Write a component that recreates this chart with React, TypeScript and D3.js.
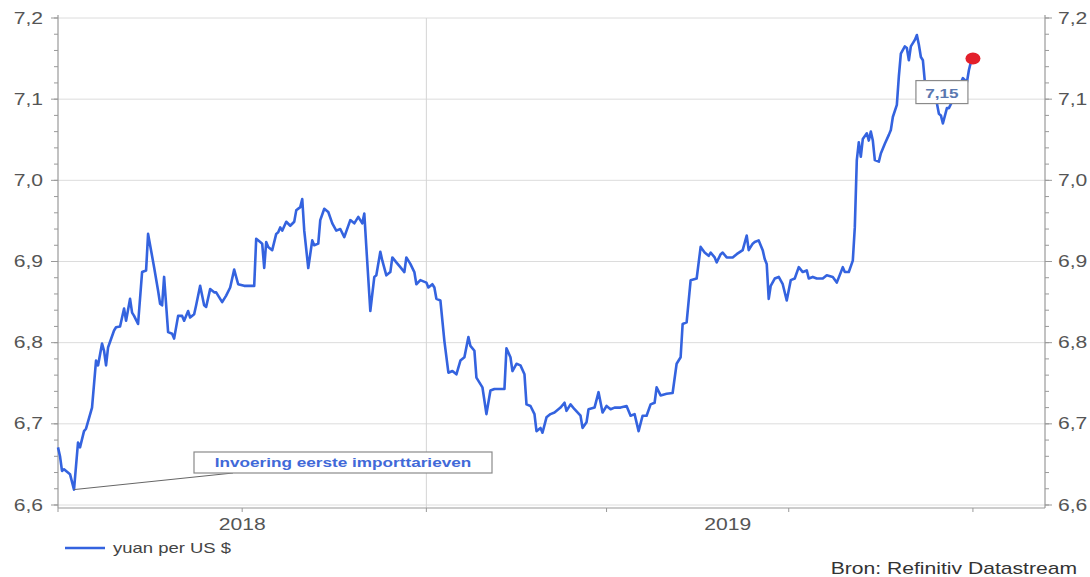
import React from "react";
import * as d3 from "d3";

const dates: string[] = [
  "2018-07-01","2018-07-02","2018-07-03","2018-07-04","2018-07-07","2018-07-09","2018-07-11","2018-07-12","2018-07-14","2018-07-15",
  "2018-07-18","2018-07-20","2018-07-21","2018-07-23","2018-07-24","2018-07-25","2018-07-26","2018-07-29","2018-07-30","2018-08-01",
  "2018-08-03","2018-08-04","2018-08-06","2018-08-07","2018-08-08","2018-08-10","2018-08-12","2018-08-14","2018-08-15","2018-08-18",
  "2018-08-20","2018-08-21","2018-08-22","2018-08-23","2018-08-25","2018-08-27","2018-08-28","2018-08-30","2018-09-01","2018-09-02",
  "2018-09-04","2018-09-05","2018-09-07","2018-09-08","2018-09-10","2018-09-12","2018-09-13","2018-09-15","2018-09-17","2018-09-18",
  "2018-09-21","2018-09-23","2018-09-25","2018-09-27","2018-09-29","2018-10-02","2018-10-07","2018-10-08","2018-10-10","2018-10-11",
  "2018-10-12","2018-10-13","2018-10-14","2018-10-16","2018-10-18","2018-10-19","2018-10-20","2018-10-21","2018-10-23","2018-10-25",
  "2018-10-27","2018-10-28","2018-10-30","2018-10-31","2018-11-01","2018-11-03","2018-11-05","2018-11-06","2018-11-08","2018-11-09",
  "2018-11-11","2018-11-13","2018-11-15","2018-11-17","2018-11-19","2018-11-21","2018-11-24","2018-11-26","2018-11-28","2018-11-29",
  "2018-11-30","2018-12-01","2018-12-02","2018-12-04","2018-12-06","2018-12-07","2018-12-09","2018-12-10","2018-12-12","2018-12-14",
  "2018-12-15","2018-12-17","2018-12-19","2018-12-21","2018-12-22","2018-12-24","2018-12-26","2018-12-27","2018-12-29","2019-01-01",
  "2019-01-02","2019-01-04","2019-01-05","2019-01-06","2019-01-08","2019-01-10","2019-01-12","2019-01-14","2019-01-16","2019-01-18",
  "2019-01-20","2019-01-22","2019-01-23","2019-01-25","2019-01-26","2019-01-29","2019-01-31","2019-02-02","2019-02-04","2019-02-09",
  "2019-02-10","2019-02-12","2019-02-13","2019-02-15","2019-02-17","2019-02-19","2019-02-20","2019-02-22","2019-02-24","2019-02-25",
  "2019-02-27","2019-02-28","2019-03-02","2019-03-04","2019-03-06","2019-03-09","2019-03-11","2019-03-12","2019-03-14","2019-03-16",
  "2019-03-19","2019-03-20","2019-03-22","2019-03-23","2019-03-26","2019-03-28","2019-03-30","2019-04-01","2019-04-03","2019-04-05",
  "2019-04-08","2019-04-11","2019-04-13","2019-04-15","2019-04-17","2019-04-19","2019-04-21","2019-04-23","2019-04-25","2019-04-26",
  "2019-04-28","2019-05-01","2019-05-04","2019-05-06","2019-05-08","2019-05-09","2019-05-11","2019-05-13","2019-05-16","2019-05-18",
  "2019-05-20","2019-05-22","2019-05-23","2019-05-25","2019-05-26","2019-05-28","2019-05-29","2019-05-31","2019-06-03","2019-06-05",
  "2019-06-08","2019-06-10","2019-06-11","2019-06-13","2019-06-14","2019-06-16","2019-06-18","2019-06-19","2019-06-20","2019-06-21",
  "2019-06-22","2019-06-24","2019-06-26","2019-06-28","2019-06-30","2019-07-02","2019-07-04","2019-07-06","2019-07-08","2019-07-10",
  "2019-07-11","2019-07-13","2019-07-15","2019-07-18","2019-07-20","2019-07-23","2019-07-25","2019-07-28","2019-07-29","2019-07-31",
  "2019-08-02","2019-08-03","2019-08-04","2019-08-05","2019-08-06","2019-08-07","2019-08-09","2019-08-10","2019-08-11","2019-08-12",
  "2019-08-13","2019-08-15","2019-08-16","2019-08-18","2019-08-20","2019-08-21","2019-08-22","2019-08-24","2019-08-25","2019-08-26",
  "2019-08-28","2019-08-29","2019-08-30","2019-08-31","2019-09-02","2019-09-03","2019-09-04","2019-09-05","2019-09-06","2019-09-07",
  "2019-09-08","2019-09-10","2019-09-13","2019-09-14","2019-09-15","2019-09-16","2019-09-18","2019-09-19","2019-09-21","2019-09-23",
  "2019-09-24","2019-09-26","2019-09-28","2019-09-29","2019-09-30","2019-10-01"
];

const yuanPerUsd: number[] = [
  6.671,6.660,6.642,6.644,6.638,6.619,6.677,6.671,6.691,6.694,
  6.720,6.778,6.772,6.799,6.790,6.772,6.794,6.815,6.819,6.820,
  6.842,6.827,6.854,6.837,6.833,6.823,6.887,6.889,6.934,6.893,
  6.864,6.848,6.846,6.881,6.813,6.811,6.805,6.833,6.833,6.827,
  6.839,6.831,6.835,6.846,6.870,6.846,6.844,6.866,6.862,6.862,
  6.850,6.858,6.868,6.890,6.872,6.870,6.870,6.928,6.924,6.922,
  6.892,6.924,6.918,6.914,6.934,6.936,6.942,6.938,6.949,6.944,
  6.949,6.963,6.967,6.977,6.938,6.892,6.926,6.920,6.922,6.951,
  6.965,6.961,6.947,6.938,6.940,6.930,6.951,6.947,6.955,6.951,
  6.947,6.959,6.918,6.839,6.881,6.883,6.912,6.901,6.883,6.887,
  6.905,6.899,6.893,6.887,6.905,6.897,6.887,6.872,6.877,6.874,
  6.868,6.872,6.868,6.854,6.852,6.802,6.763,6.765,6.761,6.778,
  6.782,6.807,6.796,6.790,6.757,6.745,6.712,6.741,6.743,6.743,
  6.793,6.782,6.765,6.774,6.772,6.761,6.724,6.722,6.712,6.691,
  6.695,6.689,6.708,6.712,6.714,6.720,6.726,6.716,6.724,6.718,
  6.710,6.695,6.702,6.718,6.720,6.739,6.714,6.722,6.718,6.720,
  6.720,6.722,6.710,6.712,6.691,6.710,6.710,6.724,6.726,6.745,
  6.735,6.737,6.738,6.774,6.782,6.823,6.825,6.877,6.879,6.918,
  6.911,6.907,6.911,6.905,6.899,6.909,6.911,6.905,6.905,6.909,
  6.914,6.932,6.914,6.922,6.924,6.926,6.914,6.903,6.897,6.854,
  6.870,6.879,6.881,6.872,6.852,6.877,6.879,6.893,6.887,6.889,
  6.879,6.881,6.879,6.879,6.883,6.881,6.874,6.893,6.887,6.887,
  6.901,6.942,7.025,7.047,7.029,7.051,7.058,7.049,7.060,7.049,
  7.025,7.023,7.033,7.045,7.056,7.062,7.078,7.093,7.128,7.156,
  7.165,7.163,7.148,7.165,7.173,7.179,7.167,7.152,7.148,7.121,
  7.117,7.115,7.095,7.082,7.080,7.070,7.089,7.089,7.099,7.103,
  7.115,7.126,7.121,7.136,7.146,7.150
];

const yTicks: number[] = [6.6, 6.7, 6.8, 6.9, 7.0, 7.1, 7.2];
const yearLabels: string[] = ["2018", "2019"];
const seriesName = "yuan per US $";
const annotationText = "Invoering eerste importtarieven";
const annotationDate = "2018-07-09";
const lastLabel = "7,15";
const sourceText = "Bron: Refinitiv Datastream";

const W = 1090;
const H = 577;
const LEFT = 58;
const RIGHT = 1045;
const TOP = 18;
const BOTTOM = 505;
const AXIS_Y = 508;
const BLUE = "#3463df";
const SX = 1.32;
const FONT = "'Liberation Sans', Arial, sans-serif";

function SText({ x, y, children, anchor = "start", size = 16, fill = "#555", weight = "normal" }: any) {
  return (
    <g transform={`translate(${x},${y}) scale(${SX},1)`}>
      <text x={0} y={0} textAnchor={anchor} fontSize={size} fill={fill} fontWeight={weight} fontFamily={FONT}>
        {children}
      </text>
    </g>
  );
}

export default function App() {
  const parse = d3.timeParse("%Y-%m-%d");
  const data = dates.map((d, i) => ({ date: parse(d) as Date, value: yuanPerUsd[i] }));

  const x = d3.scaleTime().domain([new Date(2018, 6, 1), new Date(2019, 10, 6)]).range([LEFT, RIGHT]);
  const y = d3.scaleLinear().domain([6.6, 7.2]).range([BOTTOM, TOP]);

  const line = d3.line<{ date: Date; value: number }>().x(d => x(d.date)).y(d => y(d.value));

  const minorTicks = d3.range(6.6, 7.2001, 0.02);
  const quarterTicks = x.ticks(d3.timeMonth.every(3) as any).filter(d => d.getMonth() % 3 === 0);
  const yearStarts = yearLabels.map(s => new Date(+s, 0, 1));
  const domainEnd = x.domain()[1];
  const domainStart = x.domain()[0];

  const last = data[data.length - 1];
  const lx = x(last.date);
  const ly = y(last.value);

  const annD = parse(annotationDate) as Date;
  const annPoint = data.find(d => +d.date === +annD)!;
  const ax = x(annPoint.date);
  const ay = y(annPoint.value);
  const boxX0 = 194, boxX1 = 492, boxY0 = 452, boxY1 = 473;

  const fmt = (v: number) => v.toFixed(1).replace(".", ",");

  return (
    <svg width={W} height={H} style={{ position: "absolute", left: 0, top: 0, background: "#fff" }}>
      <rect x={0} y={0} width={W} height={H} fill="#fff" />
      {/* horizontal gridlines */}
      {yTicks.map(t => (
        <line key={"g" + t} x1={LEFT} x2={RIGHT} y1={y(t)} y2={y(t)} stroke="#dcdcdc" strokeWidth={1} />
      ))}
      {/* vertical year gridline */}
      {yearStarts.filter(d => d > domainStart && d < domainEnd).map(d => (
        <line key={"v" + +d} x1={x(d)} x2={x(d)} y1={TOP} y2={AXIS_Y} stroke="#d4d4d4" strokeWidth={1} />
      ))}
      {/* axes */}
      <line x1={LEFT} x2={LEFT} y1={TOP - 3} y2={AXIS_Y} stroke="#999" strokeWidth={1.2} />
      <line x1={RIGHT} x2={RIGHT} y1={TOP - 3} y2={AXIS_Y} stroke="#999" strokeWidth={1.2} />
      <line x1={LEFT} x2={RIGHT} y1={AXIS_Y} y2={AXIS_Y} stroke="#999" strokeWidth={1.2} />
      {minorTicks.map((t, i) => (
        <g key={"m" + i}>
          <line x1={LEFT - 4} x2={LEFT} y1={y(t)} y2={y(t)} stroke="#999" />
          <line x1={RIGHT} x2={RIGHT + 4} y1={y(t)} y2={y(t)} stroke="#999" />
        </g>
      ))}
      {yTicks.map(t => (
        <g key={"t" + t}>
          <line x1={LEFT - 7} x2={LEFT} y1={y(t)} y2={y(t)} stroke="#999" />
          <line x1={RIGHT} x2={RIGHT + 7} y1={y(t)} y2={y(t)} stroke="#999" />
          <SText x={43} y={y(t) + 5.5} anchor="end">{fmt(t)}</SText>
          <SText x={1058} y={y(t) + 5.5}>{fmt(t)}</SText>
        </g>
      ))}
      {quarterTicks.map(d => (
        <line key={"q" + +d} x1={x(d)} x2={x(d)} y1={AXIS_Y} y2={AXIS_Y + 4} stroke="#999" />
      ))}
      {yearStarts.map((d, i) => {
        const s = d < domainStart ? domainStart : d;
        const e0 = new Date(d.getFullYear() + 1, 0, 1);
        const e = e0 > domainEnd ? domainEnd : e0;
        return (
          <SText key={"y" + i} x={(x(s) + x(e)) / 2 - (e0 > domainEnd ? 8 : 0)} y={530} anchor="middle">
            {yearLabels[i]}
          </SText>
        );
      })}

      {/* series line */}
      <path d={line(data) || ""} fill="none" stroke={BLUE} strokeWidth={2.6} strokeLinejoin="round" />

      {/* annotation */}
      <line x1={ax} y1={ay} x2={233} y2={boxY1} stroke="#666" strokeWidth={1} />
      <rect x={boxX0} y={boxY0} width={boxX1 - boxX0} height={boxY1 - boxY0} fill="#fff" stroke="#8a8a8a" strokeWidth={1.2} />
      <SText x={(boxX0 + boxX1) / 2} y={467} anchor="middle" size={13} fill="#4169d8" weight="bold">
        {annotationText}
      </SText>

      {/* last value label */}
      <rect x={lx - 57} y={ly + 22} width={52} height={23} fill="#fff" stroke="#8a8a8a" strokeWidth={1.2} />
      <SText x={lx - 31} y={ly + 39} anchor="middle" size={13} fill="#5a78b0" weight="bold">
        {lastLabel}
      </SText>
      <ellipse cx={lx} cy={ly} rx={7.5} ry={6} fill="#e3202b" />

      {/* legend */}
      <line x1={65} x2={105} y1={548} y2={548} stroke={BLUE} strokeWidth={2.6} />
      <SText x={113} y={553} size={14} fill="#444">{seriesName}</SText>

      {/* source */}
      <SText x={1077} y={574} anchor="end" size={16} fill="#333">{sourceText}</SText>
    </svg>
  );
}
